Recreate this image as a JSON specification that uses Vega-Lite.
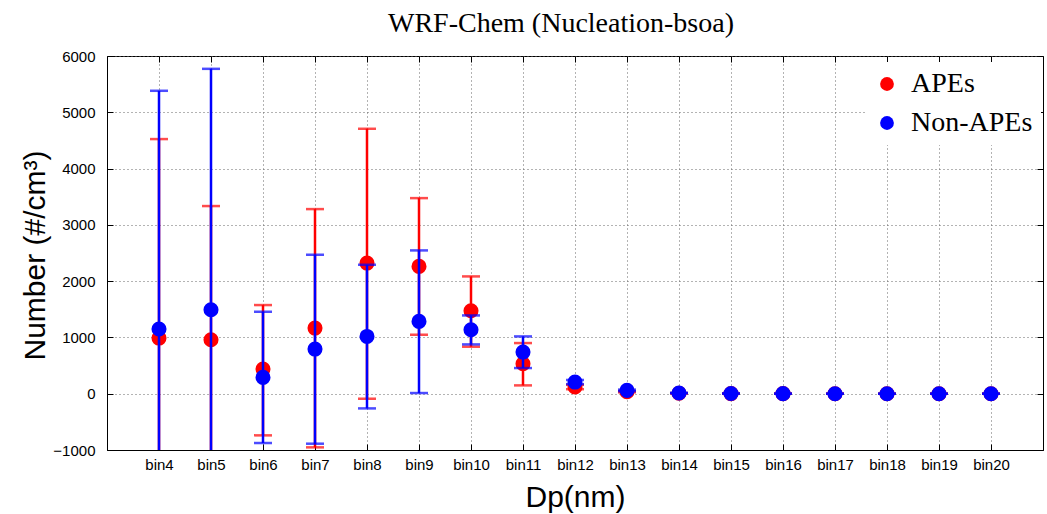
{
  "$schema": "https://vega.github.io/schema/vega-lite/v6.json",
  "width": 936,
  "height": 394,
  "autosize": {"type": "none"},
  "padding": {"left": 107, "top": 56, "right": 4, "bottom": 64},
  "background": "white",
  "title": {
    "text": "WRF-Chem (Nucleation-bsoa)",
    "font": "Liberation Serif",
    "fontSize": 28,
    "fontWeight": "normal",
    "color": "black",
    "frame": "group",
    "anchor": "middle",
    "baseline": "alphabetic",
    "offset": 21,
    "dx": -14,
    "dy": 32
  },
  "data": {
    "values": [
      {"bin": "bin4", "series": "APEs", "y": 989, "lo": -2546, "hi": 4524},
      {"bin": "bin5", "series": "APEs", "y": 959, "lo": -1416, "hi": 3334},
      {"bin": "bin6", "series": "APEs", "y": 438, "lo": -740, "hi": 1575},
      {"bin": "bin7", "series": "APEs", "y": 1166, "lo": -953, "hi": 3280},
      {"bin": "bin8", "series": "APEs", "y": 2321, "lo": -89, "hi": 4707},
      {"bin": "bin9", "series": "APEs", "y": 2262, "lo": 1048, "hi": 3475},
      {"bin": "bin10", "series": "APEs", "y": 1474, "lo": 835, "hi": 2084},
      {"bin": "bin11", "series": "APEs", "y": 533, "lo": 148, "hi": 900},
      {"bin": "bin12", "series": "APEs", "y": 119, "lo": 80, "hi": 158},
      {"bin": "bin13", "series": "APEs", "y": 36, "lo": 25, "hi": 47},
      {"bin": "bin14", "series": "APEs", "y": 8, "lo": 4, "hi": 12},
      {"bin": "bin15", "series": "APEs", "y": 2, "lo": 1, "hi": 3},
      {"bin": "bin16", "series": "APEs", "y": 1, "lo": 0, "hi": 2},
      {"bin": "bin17", "series": "APEs", "y": 0, "lo": 0, "hi": 0},
      {"bin": "bin18", "series": "APEs", "y": 0, "lo": 0, "hi": 0},
      {"bin": "bin19", "series": "APEs", "y": 0, "lo": 0, "hi": 0},
      {"bin": "bin20", "series": "APEs", "y": 0, "lo": 0, "hi": 0},
      {"bin": "bin4", "series": "Non-APEs", "y": 1149, "lo": -3084, "hi": 5382},
      {"bin": "bin5", "series": "Non-APEs", "y": 1492, "lo": -2788, "hi": 5772},
      {"bin": "bin6", "series": "Non-APEs", "y": 290, "lo": -876, "hi": 1456},
      {"bin": "bin7", "series": "Non-APEs", "y": 793, "lo": -888, "hi": 2469},
      {"bin": "bin8", "series": "Non-APEs", "y": 1018, "lo": -261, "hi": 2291},
      {"bin": "bin9", "series": "Non-APEs", "y": 1285, "lo": 12, "hi": 2546},
      {"bin": "bin10", "series": "Non-APEs", "y": 1137, "lo": 876, "hi": 1391},
      {"bin": "bin11", "series": "Non-APEs", "y": 740, "lo": 456, "hi": 1018},
      {"bin": "bin12", "series": "Non-APEs", "y": 207, "lo": 170, "hi": 244},
      {"bin": "bin13", "series": "Non-APEs", "y": 59, "lo": 45, "hi": 73},
      {"bin": "bin14", "series": "Non-APEs", "y": 12, "lo": 7, "hi": 17},
      {"bin": "bin15", "series": "Non-APEs", "y": 3, "lo": 1, "hi": 5},
      {"bin": "bin16", "series": "Non-APEs", "y": 1, "lo": 0, "hi": 2},
      {"bin": "bin17", "series": "Non-APEs", "y": 0, "lo": 0, "hi": 0},
      {"bin": "bin18", "series": "Non-APEs", "y": 0, "lo": 0, "hi": 0},
      {"bin": "bin19", "series": "Non-APEs", "y": 0, "lo": 0, "hi": 0},
      {"bin": "bin20", "series": "Non-APEs", "y": 0, "lo": 0, "hi": 0}
    ]
  },
  "layer": [
    {
      "transform": [{"filter": "datum.series === 'APEs'"}],
      "mark": {"type": "rule", "color": "#ff0000", "strokeWidth": 2.5, "clip": true},
      "encoding": {
        "x": {
          "field": "bin", "type": "ordinal",
          "scale": {"type": "point", "padding": 1, "domain": ["bin4","bin5","bin6","bin7","bin8","bin9","bin10","bin11","bin12","bin13","bin14","bin15","bin16","bin17","bin18","bin19","bin20"]},
          "axis": {
            "orient": "bottom", "title": "Dp(nm)", "labelAngle": 0, "grid": true,
            "labelPadding": 13,
            "titleFont": "Liberation Sans", "titleFontSize": 30, "titleFontWeight": "normal",
            "titleBaseline": "alphabetic", "titleY": 56, "titleColor": "black"
          }
        },
        "y": {
          "field": "lo", "type": "quantitative",
          "scale": {"domain": [-1000, 6000], "nice": false, "zero": false},
          "axis": {
            "orient": "left", "title": "Number (#/cm³)", "grid": true, "format": "d",
            "values": [-1000, 0, 1000, 2000, 3000, 4000, 5000, 6000],
            "labelPadding": 18,
            "titleFont": "Liberation Sans", "titleFontSize": 30, "titleFontWeight": "normal",
            "titleBaseline": "alphabetic", "titleX": -63, "titleY": 199, "titleAngle": -90,
            "titleAlign": "center", "titleColor": "black"
          }
        },
        "y2": {"field": "hi"}
      }
    },
    {
      "transform": [{"filter": "datum.series === 'APEs'"}, {"fold": ["lo", "hi"], "as": ["end", "cap"]}],
      "mark": {"type": "tick", "color": "#ff0000", "thickness": 2.5, "size": 18, "clip": true},
      "encoding": {
        "x": {"field": "bin", "type": "ordinal", "axis": null},
        "y": {"field": "cap", "type": "quantitative", "axis": null}
      }
    },
    {
      "transform": [{"filter": "datum.series === 'APEs'"}],
      "mark": {"type": "circle", "opacity": 1, "size": 227, "clip": true},
      "encoding": {
        "x": {"field": "bin", "type": "ordinal", "axis": null},
        "y": {"field": "y", "type": "quantitative", "axis": null},
        "color": {
          "field": "series", "type": "nominal",
          "scale": {"domain": ["APEs", "Non-APEs"], "range": ["#ff0000", "#0000ff"]},
          "legend": {
            "title": null, "orient": "none", "legendX": 758, "legendY": 6,
            "padding": 8, "fillColor": "white", "strokeColor": null,
            "symbolType": "circle", "symbolSize": 190, "symbolStrokeWidth": 0, "symbolOpacity": 1,
            "labelFont": "Liberation Serif", "labelFontSize": 28, "labelColor": "black",
            "labelOffset": 10, "rowPadding": 11
          }
        }
      }
    },
    {
      "transform": [{"filter": "datum.series === 'Non-APEs'"}],
      "mark": {"type": "rule", "color": "#0000ff", "strokeWidth": 2.5, "clip": true},
      "encoding": {
        "x": {"field": "bin", "type": "ordinal", "axis": null},
        "y": {"field": "lo", "type": "quantitative", "axis": null},
        "y2": {"field": "hi"}
      }
    },
    {
      "transform": [{"filter": "datum.series === 'Non-APEs'"}, {"fold": ["lo", "hi"], "as": ["end", "cap"]}],
      "mark": {"type": "tick", "color": "#0000ff", "thickness": 2.5, "size": 18, "clip": true},
      "encoding": {
        "x": {"field": "bin", "type": "ordinal", "axis": null},
        "y": {"field": "cap", "type": "quantitative", "axis": null}
      }
    },
    {
      "transform": [{"filter": "datum.series === 'Non-APEs'"}],
      "mark": {"type": "circle", "opacity": 1, "size": 227, "clip": true},
      "encoding": {
        "x": {"field": "bin", "type": "ordinal", "axis": {"orient": "top", "labels": false, "title": null, "grid": false, "domain": false}},
        "y": {"field": "y", "type": "quantitative", "axis": {"orient": "right", "labels": false, "title": null, "grid": false, "domain": false, "values": [-1000, 0, 1000, 2000, 3000, 4000, 5000, 6000]}},
        "color": {"field": "series", "type": "nominal"}
      }
    }
  ],
  "resolve": {"axis": {"x": "independent", "y": "independent"}},
  "config": {
    "view": {"stroke": "black", "strokeWidth": 1},
    "axis": {
      "labelFont": "Liberation Sans", "labelFontSize": 15, "labelColor": "black",
      "tickColor": "black", "tickSize": -6, "tickWidth": 1,
      "domainColor": "black", "domainWidth": 1,
      "gridColor": "#666666", "gridDash": [1, 3], "gridWidth": 1
    }
  }
}
